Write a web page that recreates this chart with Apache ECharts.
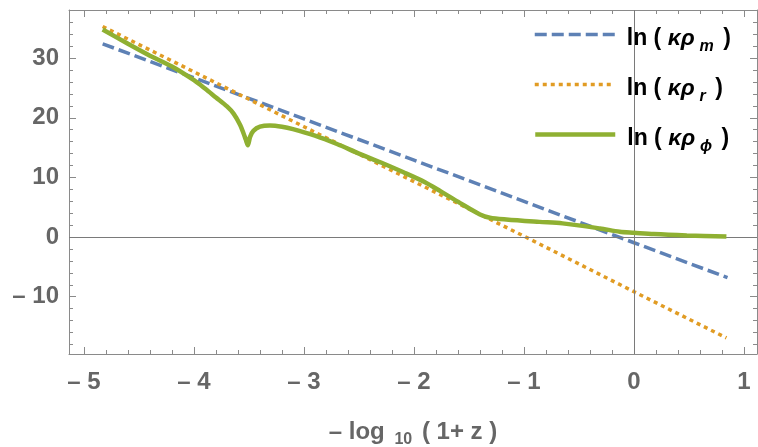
<!DOCTYPE html>
<html>
<head>
<meta charset="utf-8">
<script src="https://cdn.jsdelivr.net/npm/echarts@6/dist/echarts.min.js"></script>
<style>
  html, body { margin: 0; padding: 0; background: #fff; }
  #chart { width: 758px; height: 447px; }
</style>
</head>
<body>
<div id="chart"></div>
<script>
// values
const xMatter = [-4.83, -4, -3, -2, -1, 0, 0.85]
const yMatter = [32.4, 26.7, 19.8, 12.9, 6.0, -0.95, -6.8]

const xRad = [-4.83, -4, -3, -2, -1, 0, 0.84]
const yRad = [35.3, 27.7, 18.5, 9.3, 0.15, -9.16, -16.9]

const xPhi = [-4.83, -4.6, -4.4, -4.2, -4.0, -3.9, -3.8, -3.7, -3.64, -3.58, -3.55, -3.53, -3.51,
  -3.49, -3.46, -3.4, -3.31, -3.2, -3.1, -2.9, -2.7, -2.5, -2.3, -2.1, -1.9, -1.76, -1.58, -1.4,
  -1.31, -1.16, -0.86, -0.65, -0.31, -0.13, 0, 0.18, 0.48, 0.84]
const yPhi = [34.8, 32.4, 30.4, 28.6, 26.3, 24.9, 23.4, 21.9, 20.7, 18.8, 17.4, 16.4, 15.4,
  16.8, 17.8, 18.5, 18.7, 18.5, 18.1, 17.0, 15.6, 14.0, 12.5, 10.9, 9.2, 7.7, 5.7, 3.8,
  3.25, 2.95, 2.55, 2.3, 1.45, 0.9, 0.73, 0.5, 0.28, 0.1]

const xTicks = [-5, -4, -3, -2, -1, 0, 1]
const yTicks = [-10, 0, 10, 20, 30]
const xMinor = []
for (let i = -25; i <= 5; i++) xMinor.push(i / 5)
const yMinor = []
for (let v = -18; v <= 36; v += 2) yMinor.push(v)

const legendNames = ['m', 'r', 'phi']
const legendSubs = { m: 'm', r: 'r', phi: 'ϕ' }
const legendWidths = { m: 3.5, r: 3.5, phi: 4.5 }

const FONT = 'Liberation Sans, Arial, sans-serif'
const FRAME = '#8a8a8a'
const LABEL = '#666666'
const X_MIN = -5.136, X_MAX = 1.118
const Y_MIN = -19.6, Y_MAX = 38.07

const zip = (xs, ys) => xs.map((x, i) => [x, ys[i]])
const fmt = v => (v < 0 ? '– ' + Math.abs(v) : String(v))

function frameAxis(pos, major, values, extra) {
  return Object.assign({
    type: 'value',
    position: pos,
    min: pos === 'bottom' || pos === 'top' ? X_MIN : Y_MIN,
    max: pos === 'bottom' || pos === 'top' ? X_MAX : Y_MAX,
    axisLine: { show: major, onZero: false, lineStyle: { color: FRAME, width: 1 } },
    axisTick: {
      show: true, inside: true, length: major ? 7 : 4, customValues: values,
      lineStyle: { color: FRAME, width: 1 }
    },
    axisLabel: { show: false },
    splitLine: { show: false }
  }, extra || {})
}

const labelStyle = {
  color: LABEL, fontSize: 24, fontWeight: 'bold', fontFamily: FONT, formatter: fmt
}

const chart = echarts.init(document.getElementById('chart'))

const legendRich = {
  a: { fontSize: 23, fontWeight: 'bold', color: '#000', fontFamily: FONT, lineHeight: 32, verticalAlign: 'middle' },
  b: { fontSize: 23, fontWeight: 'bold', fontStyle: 'italic', color: '#000', fontFamily: FONT, lineHeight: 32, verticalAlign: 'middle' },
  s: { fontSize: 16, fontWeight: 'bold', fontStyle: 'italic', color: '#000', fontFamily: FONT, lineHeight: 32, verticalAlign: 'bottom', padding: [0, 3, 0, 5] }
}

const legendTops = [22, 72, 122]

chart.setOption({
  animation: false,
  grid: { left: 69, right: 1, top: 10, bottom: 93, containLabel: false, outerBoundsMode: 'none' },
  legend: legendNames.map((n, i) => ({
    data: [n],
    left: 528,
    top: legendTops[i],
    itemWidth: 80,
    itemHeight: 14,
    selectedMode: false,
    itemStyle: { opacity: 0 },
    lineStyle: { width: legendWidths[n] },
    formatter: name => `{a|ln ( }{b|κρ}{s|${legendSubs[name]}}{a| )}`,
    textStyle: { padding: [8, 0, 0, 7], rich: legendRich }
  })),
  xAxis: [
    frameAxis('bottom', true, xTicks, {
      axisLabel: Object.assign({ show: true, margin: 16, customValues: xTicks }, labelStyle),
      name: '{a|– log }{s|10}{a| ( 1+ z )}',
      nameLocation: 'middle',
      nameGap: 62,
      nameTextStyle: {
        rich: {
          a: { fontSize: 24, fontWeight: 'bold', color: LABEL, fontFamily: FONT, lineHeight: 32, verticalAlign: 'middle' },
          s: { fontSize: 16, fontWeight: 'bold', color: LABEL, fontFamily: FONT, lineHeight: 32, verticalAlign: 'bottom', padding: [0, 3, 0, 3] }
        }
      }
    }),
    frameAxis('bottom', false, xMinor),
    frameAxis('top', true, xTicks),
    frameAxis('top', false, xMinor)
  ],
  yAxis: [
    frameAxis('left', true, yTicks, {
      axisLabel: Object.assign({ show: true, margin: 10, customValues: yTicks }, labelStyle)
    }),
    frameAxis('left', false, yMinor),
    frameAxis('right', true, yTicks),
    frameAxis('right', false, yMinor)
  ],
  series: [
    {
      name: 'm',
      type: 'line',
      data: zip(xMatter, yMatter),
      symbol: 'none',
      z: 3,
      lineStyle: { color: '#5e81b5', width: 3.5, type: [12, 5] },
      itemStyle: { color: '#5e81b5' },
      markLine: {
        silent: true,
        symbol: ['none', 'none'],
        label: { show: false },
        lineStyle: { color: '#7a7a7a', width: 1, type: 'solid' },
        data: [{ xAxis: 0 }, { yAxis: 0 }]
      }
    },
    {
      name: 'r',
      type: 'line',
      data: zip(xRad, yRad),
      symbol: 'none',
      z: 4,
      lineStyle: { color: '#e19c24', width: 3.5, type: [4, 4] },
      itemStyle: { color: '#e19c24' }
    },
    {
      name: 'phi',
      type: 'line',
      data: zip(xPhi, yPhi),
      symbol: 'none',
      smooth: 0.3,
      z: 5,
      lineStyle: { color: '#8fb032', width: 4.5 },
      itemStyle: { color: '#8fb032' }
    }
  ]
})
</script>
</body>
</html>
